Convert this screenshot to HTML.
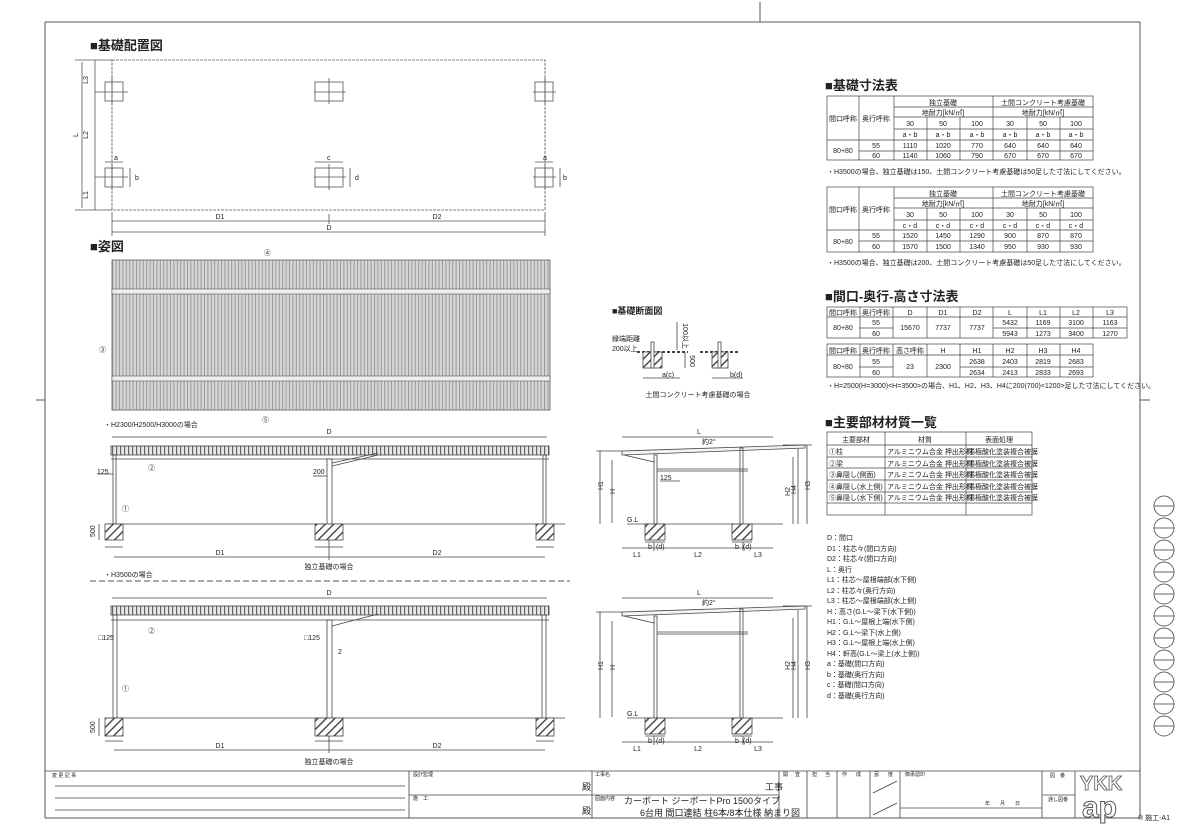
<!DOCTYPE html>
<html><head><meta charset="utf-8">
<style>
html,body{margin:0;padding:0;background:#fff;}
svg{display:block;}
text{font-family:"Liberation Sans","Noto Sans CJK JP",sans-serif;fill:#222;}
.t{font-size:8px;}
.s{font-size:7px;}
.h{font-size:13px;font-weight:bold;}
.m{text-anchor:middle;}
</style></head><body>
<svg width="1181" height="835" viewBox="0 0 1181 835" xmlns="http://www.w3.org/2000/svg">
<defs>
<pattern id="hat" width="6" height="6" patternUnits="userSpaceOnUse" patternTransform="rotate(45)">
<rect width="6" height="6" fill="#fff"/><rect width="1.4" height="6" fill="#444"/></pattern>
<pattern id="rib" width="3.4" height="10" patternUnits="userSpaceOnUse">
<rect width="3.4" height="10" fill="#d6d6d6"/><rect width="1" height="10" fill="#9a9a9a"/></pattern>
<pattern id="beam" width="4" height="8" patternUnits="userSpaceOnUse">
<rect width="4" height="8" fill="#e6e6e6"/><rect width="1.2" height="8" fill="#666"/></pattern>
</defs>
<g stroke="#555" stroke-width="1" fill="none">
<line x1="45" y1="22" x2="1140" y2="22"/>
<line x1="45" y1="22" x2="45" y2="818"/>
<line x1="1140" y1="22" x2="1140" y2="818"/>
<line x1="45" y1="818" x2="1140" y2="818"/>
<line x1="760" y1="2" x2="760" y2="22"/>
<line x1="36" y1="400" x2="45" y2="400"/>
<line x1="1140" y1="400" x2="1150" y2="400"/>
</g>
<g stroke="#666" fill="none">
<circle cx="1164" cy="506" r="10"/><circle cx="1164" cy="528" r="10"/><circle cx="1164" cy="550" r="10"/>
<circle cx="1164" cy="572" r="10"/><circle cx="1164" cy="594" r="10"/><circle cx="1164" cy="616" r="10"/>
<circle cx="1164" cy="638" r="10"/><circle cx="1164" cy="660" r="10"/><circle cx="1164" cy="682" r="10"/>
<circle cx="1164" cy="704" r="10"/><circle cx="1164" cy="726" r="10"/>
<line x1="1154" y1="506" x2="1174" y2="506"/><line x1="1154" y1="528" x2="1174" y2="528"/><line x1="1154" y1="550" x2="1174" y2="550"/>
<line x1="1154" y1="572" x2="1174" y2="572"/><line x1="1154" y1="594" x2="1174" y2="594"/><line x1="1154" y1="616" x2="1174" y2="616"/>
<line x1="1154" y1="638" x2="1174" y2="638"/><line x1="1154" y1="660" x2="1174" y2="660"/><line x1="1154" y1="682" x2="1174" y2="682"/>
<line x1="1154" y1="704" x2="1174" y2="704"/><line x1="1154" y1="726" x2="1174" y2="726"/>
</g>

<text x="90" y="50" class="h">■基礎配置図</text>
<g stroke="#555" fill="none" stroke-width="0.8">
<rect x="112" y="60" width="433" height="150" stroke-dasharray="3,1"/>
<rect x="105" y="82" width="18" height="19"/><rect x="315" y="82" width="28" height="19"/><rect x="535" y="82" width="18" height="19"/>
<rect x="105" y="168" width="18" height="19"/><rect x="315" y="168" width="28" height="19"/><rect x="535" y="168" width="18" height="19"/>
<line x1="95" y1="92" x2="128" y2="92"/><line x1="314" y1="92" x2="346" y2="92"/><line x1="533" y1="92" x2="556" y2="92"/>
<line x1="95" y1="177" x2="128" y2="177"/><line x1="314" y1="177" x2="346" y2="177"/><line x1="533" y1="177" x2="556" y2="177"/>
<line x1="112" y1="78" x2="112" y2="104"/><line x1="329" y1="78" x2="329" y2="104"/><line x1="545" y1="78" x2="545" y2="104"/>
<line x1="112" y1="164" x2="112" y2="190"/><line x1="329" y1="164" x2="329" y2="190"/><line x1="545" y1="164" x2="545" y2="190"/>
<line x1="82" y1="62" x2="82" y2="208"/><line x1="75" y1="60" x2="112" y2="60"/><line x1="75" y1="210" x2="112" y2="210"/>
<line x1="95" y1="60" x2="95" y2="210"/>
<line x1="105" y1="162" x2="123" y2="162"/><line x1="315" y1="162" x2="343" y2="162"/><line x1="535" y1="162" x2="553" y2="162"/>
<line x1="130" y1="168" x2="130" y2="187"/><line x1="350" y1="168" x2="350" y2="187"/><line x1="560" y1="168" x2="560" y2="187"/>
<line x1="112" y1="221" x2="545" y2="221"/><line x1="329" y1="214" x2="329" y2="224"/>
<line x1="112" y1="212" x2="112" y2="236"/><line x1="545" y1="212" x2="545" y2="236"/>
<line x1="112" y1="232" x2="545" y2="232"/>
</g>
<g class="s">
<text x="88" y="80" transform="rotate(-90 88 80)" class="m">L3</text>
<text x="88" y="135" transform="rotate(-90 88 135)" class="m">L2</text>
<text x="88" y="195" transform="rotate(-90 88 195)" class="m">L1</text>
<text x="78" y="135" transform="rotate(-90 78 135)" class="m">L</text>
<text x="114" y="160">a</text><text x="327" y="160">c</text><text x="543" y="160">a</text>
<text x="135" y="180">b</text><text x="355" y="180">d</text><text x="563" y="180">b</text>
<text x="220" y="219" class="m">D1</text><text x="437" y="219" class="m">D2</text><text x="329" y="230" class="m">D</text>
</g>

<text x="90" y="251" class="h">■姿図</text>
<rect x="112" y="260" width="438" height="150" fill="url(#rib)" stroke="#777"/>
<rect x="112" y="289" width="438" height="5" fill="#eee" stroke="#555" stroke-width="0.6"/>
<rect x="112" y="376" width="438" height="5" fill="#eee" stroke="#555" stroke-width="0.6"/>
<g class="s"><text x="264" y="255">④</text><text x="262" y="422">⑤</text><text x="99" y="352">③</text>
<text x="104" y="427">・H2300/H2500/H3000の場合</text>
<text x="104" y="577">・H3500の場合</text></g>
<line x1="90" y1="581" x2="570" y2="581" stroke="#555" stroke-dasharray="6,3"/>

<g stroke="#444" fill="none" stroke-width="0.8">
<line x1="112" y1="437" x2="547" y2="437"/>
<rect x="111" y="446" width="438" height="9" fill="url(#beam)"/>
<line x1="111" y1="459" x2="549" y2="459"/>
<rect x="113" y="455" width="3" height="69"/><rect x="327" y="459" width="5" height="65"/><rect x="543" y="455" width="3" height="69"/>
<line x1="332" y1="463" x2="378" y2="453"/><line x1="332" y1="466" x2="378" y2="455"/>
<line x1="107" y1="524" x2="565" y2="524"/>
<rect x="105" y="524" width="18" height="16" fill="url(#hat)"/><rect x="315" y="524" width="28" height="16" fill="url(#hat)"/><rect x="536" y="524" width="18" height="16" fill="url(#hat)"/>
<line x1="105" y1="547" x2="123" y2="547"/><line x1="315" y1="547" x2="343" y2="547"/><line x1="536" y1="547" x2="554" y2="547"/>
<line x1="114" y1="557" x2="545" y2="557"/><line x1="329" y1="540" x2="329" y2="560"/>
<line x1="99" y1="524" x2="99" y2="540"/><line x1="97" y1="474" x2="113" y2="474"/><line x1="313" y1="476" x2="327" y2="476"/>
</g>
<g class="s"><text x="329" y="434" class="m">D</text><text x="97" y="474">125</text><text x="313" y="474">200</text>
<text x="148" y="470">②</text><text x="122" y="511">①</text>
<text x="95" y="537" transform="rotate(-90 95 537)">500</text>
<text x="220" y="555" class="m">D1</text><text x="437" y="555" class="m">D2</text>
<text x="329" y="569" class="m">独立基礎の場合</text></g>

<g stroke="#444" fill="none" stroke-width="0.8">
<line x1="112" y1="598" x2="547" y2="598"/>
<rect x="111" y="606" width="438" height="9" fill="url(#beam)"/>
<line x1="111" y1="620" x2="549" y2="620"/>
<rect x="113" y="615" width="4" height="103"/><rect x="327" y="620" width="5" height="98"/><rect x="542" y="615" width="4" height="103"/>
<line x1="332" y1="626" x2="378" y2="614"/>
<line x1="107" y1="718" x2="565" y2="718"/>
<rect x="105" y="718" width="18" height="18" fill="url(#hat)"/><rect x="315" y="718" width="28" height="18" fill="url(#hat)"/><rect x="536" y="718" width="18" height="18" fill="url(#hat)"/>
<line x1="105" y1="741" x2="123" y2="741"/><line x1="315" y1="741" x2="343" y2="741"/><line x1="536" y1="741" x2="554" y2="741"/>
<line x1="114" y1="750" x2="545" y2="750"/><line x1="329" y1="736" x2="329" y2="753"/>
<line x1="99" y1="718" x2="99" y2="736"/>
</g>
<g class="s"><text x="329" y="595" class="m">D</text><text x="98" y="640">□125</text><text x="304" y="640">□125</text><text x="338" y="654">2</text>
<text x="148" y="633">②</text><text x="122" y="691">①</text>
<text x="95" y="733" transform="rotate(-90 95 733)">500</text>
<text x="220" y="748" class="m">D1</text><text x="437" y="748" class="m">D2</text>
<text x="329" y="764" class="m">独立基礎の場合</text></g>

<!-- side elevation 1 -->
<g stroke="#444" fill="none" stroke-width="0.8">
<line x1="622" y1="437" x2="773" y2="437"/>
<polygon points="622,451 805,445 805,448 622,455" fill="#f4f4f4"/>
<line x1="624" y1="455" x2="654" y2="462"/>
<rect x="654" y="455" width="3" height="69"/><rect x="740" y="448" width="3" height="76"/>
<line x1="657" y1="469" x2="748" y2="469"/><line x1="657" y1="471" x2="748" y2="471"/>
<line x1="627" y1="524" x2="783" y2="524"/>
<rect x="645" y="524" width="20" height="16" fill="url(#hat)"/><rect x="732" y="524" width="20" height="16" fill="url(#hat)"/>
<line x1="622" y1="548" x2="773" y2="548"/><line x1="654" y1="542" x2="654" y2="551"/><line x1="743" y1="542" x2="743" y2="551"/>
<line x1="645" y1="542" x2="665" y2="542"/><line x1="732" y1="542" x2="752" y2="542"/>
<line x1="600" y1="451" x2="600" y2="524"/><line x1="612" y1="460" x2="612" y2="523"/>
<line x1="793" y1="457" x2="793" y2="524"/><line x1="798" y1="449" x2="798" y2="524"/><line x1="807" y1="445" x2="807" y2="524"/>
<line x1="596" y1="451" x2="622" y2="451"/><line x1="783" y1="445" x2="812" y2="445"/>
<line x1="660" y1="481" x2="680" y2="481"/>
</g>
<!-- side elevation 2 (H3500) -->
<g stroke="#444" fill="none" stroke-width="0.8">
<line x1="622" y1="598" x2="773" y2="598"/>
<polygon points="622,612 805,606 805,609 622,616" fill="#f4f4f4"/>
<line x1="624" y1="616" x2="654" y2="623"/>
<rect x="654" y="616" width="3" height="102"/><rect x="740" y="609" width="3" height="109"/>
<line x1="657" y1="632" x2="748" y2="632"/><line x1="657" y1="634" x2="748" y2="634"/>
<line x1="627" y1="718" x2="783" y2="718"/>
<rect x="645" y="718" width="20" height="16" fill="url(#hat)"/><rect x="732" y="718" width="20" height="16" fill="url(#hat)"/>
<line x1="622" y1="742" x2="773" y2="742"/><line x1="654" y1="736" x2="654" y2="745"/><line x1="743" y1="736" x2="743" y2="745"/>
<line x1="645" y1="736" x2="665" y2="736"/><line x1="732" y1="736" x2="752" y2="736"/>
<line x1="600" y1="612" x2="600" y2="718"/><line x1="612" y1="621" x2="612" y2="717"/>
<line x1="793" y1="618" x2="793" y2="718"/><line x1="798" y1="610" x2="798" y2="718"/><line x1="807" y1="606" x2="807" y2="718"/>
<line x1="596" y1="612" x2="622" y2="612"/><line x1="783" y1="606" x2="812" y2="606"/>
</g>
<g class="s">
<text x="697" y="434">L</text><text x="702" y="444">約2°</text><text x="660" y="480">125</text><text x="627" y="522">G.L</text>
<text x="603" y="490" transform="rotate(-90 603 490)">H1</text><text x="615" y="494" transform="rotate(-90 615 494)">H</text>
<text x="790" y="496" transform="rotate(-90 790 496)">H2</text><text x="796" y="494" transform="rotate(-90 796 494)">H4</text><text x="810" y="490" transform="rotate(-90 810 490)">H3</text>
<text x="648" y="549">b</text><text x="656" y="549">(d)</text><text x="735" y="549">b</text><text x="743" y="549">(d)</text>
<text x="637" y="557" class="m">L1</text><text x="698" y="557" class="m">L2</text><text x="758" y="557" class="m">L3</text>
<text x="697" y="595">L</text><text x="702" y="605">約2°</text>
<text x="603" y="670" transform="rotate(-90 603 670)">H1</text><text x="615" y="670" transform="rotate(-90 615 670)">H</text>
<text x="790" y="670" transform="rotate(-90 790 670)">H2</text><text x="796" y="670" transform="rotate(-90 796 670)">H4</text><text x="810" y="670" transform="rotate(-90 810 670)">H3</text>
<text x="648" y="743">b</text><text x="656" y="743">(d)</text><text x="735" y="743">b</text><text x="743" y="743">(d)</text>
<text x="637" y="751" class="m">L1</text><text x="698" y="751" class="m">L2</text><text x="758" y="751" class="m">L3</text>
<text x="627" y="716">G.L</text>
</g>

<text x="612" y="314" style="font-size:9px;font-weight:bold">■基礎断面図</text>
<g stroke="#444" fill="none" stroke-width="0.8">
<line x1="637" y1="352" x2="688" y2="352" stroke-width="2" stroke-dasharray="3,2"/>
<rect x="643" y="352" width="19" height="16" fill="url(#hat)"/><rect x="651" y="342" width="3" height="26" fill="#fff"/>
<line x1="643" y1="378" x2="680" y2="378"/><line x1="685" y1="352" x2="685" y2="368"/><line x1="677" y1="322" x2="677" y2="350"/>
<line x1="700" y1="352" x2="738" y2="352" stroke-width="2" stroke-dasharray="3,2"/>
<rect x="712" y="352" width="16" height="16" fill="url(#hat)"/><rect x="718" y="342" width="3" height="26" fill="#fff"/>
<line x1="712" y1="378" x2="743" y2="378"/>
</g>
<g class="s"><text x="612" y="341">縁端距離</text><text x="612" y="351">200以上</text>
<text x="683" y="336" transform="rotate(90 683 336)" class="m">100以上</text>
<text x="690" y="361" transform="rotate(90 690 361)" class="m">500</text>
<text x="662" y="377">a(c)</text><text x="730" y="377">b(d)</text>
<text x="698" y="397" class="m">土間コンクリート考慮基礎の場合</text></g>

<text x="825" y="90" class="h">■基礎寸法表</text>
<g stroke="#444" fill="none" stroke-width="0.7">
<rect x="827" y="96" width="266" height="64"/>
<line x1="859" y1="96" x2="859" y2="160"/><line x1="894" y1="96" x2="894" y2="160"/><line x1="993" y1="96" x2="993" y2="160"/>
<line x1="927" y1="117" x2="927" y2="160"/><line x1="960" y1="117" x2="960" y2="160"/><line x1="1027" y1="117" x2="1027" y2="160"/><line x1="1060" y1="117" x2="1060" y2="160"/>
<line x1="894" y1="107" x2="1093" y2="107"/><line x1="894" y1="117" x2="1093" y2="117"/><line x1="894" y1="129" x2="1093" y2="129"/>
<line x1="827" y1="140" x2="1093" y2="140"/><line x1="859" y1="151" x2="1093" y2="151"/>
<rect x="827" y="187" width="266" height="65"/>
<line x1="859" y1="187" x2="859" y2="252"/><line x1="894" y1="187" x2="894" y2="252"/><line x1="993" y1="187" x2="993" y2="252"/>
<line x1="927" y1="208" x2="927" y2="252"/><line x1="960" y1="208" x2="960" y2="252"/><line x1="1027" y1="208" x2="1027" y2="252"/><line x1="1060" y1="208" x2="1060" y2="252"/>
<line x1="894" y1="198" x2="1093" y2="198"/><line x1="894" y1="208" x2="1093" y2="208"/><line x1="894" y1="220" x2="1093" y2="220"/>
<line x1="827" y1="230" x2="1093" y2="230"/><line x1="859" y1="241" x2="1093" y2="241"/>
</g>
<g class="s m">
<text x="843" y="121">間口呼称</text><text x="876" y="121">奥行呼称</text>
<text x="943" y="105">独立基礎</text><text x="1043" y="105">土間コンクリート考慮基礎</text>
<text x="943" y="115">地耐力[kN/㎡]</text><text x="1043" y="115">地耐力[kN/㎡]</text>
<text x="910" y="126">30</text><text x="943" y="126">50</text><text x="977" y="126">100</text><text x="1010" y="126">30</text><text x="1043" y="126">50</text><text x="1076" y="126">100</text>
<text x="910" y="137">a・b</text><text x="943" y="137">a・b</text><text x="977" y="137">a・b</text><text x="1010" y="137">a・b</text><text x="1043" y="137">a・b</text><text x="1076" y="137">a・b</text>
<text x="843" y="153">80+80</text><text x="876" y="148">55</text><text x="876" y="158">60</text>
<text x="910" y="148">1110</text><text x="943" y="148">1020</text><text x="977" y="148">770</text><text x="1010" y="148">640</text><text x="1043" y="148">640</text><text x="1076" y="148">640</text>
<text x="910" y="158">1140</text><text x="943" y="158">1060</text><text x="977" y="158">790</text><text x="1010" y="158">670</text><text x="1043" y="158">670</text><text x="1076" y="158">670</text>
<text x="843" y="212">間口呼称</text><text x="876" y="212">奥行呼称</text>
<text x="943" y="196">独立基礎</text><text x="1043" y="196">土間コンクリート考慮基礎</text>
<text x="943" y="206">地耐力[kN/㎡]</text><text x="1043" y="206">地耐力[kN/㎡]</text>
<text x="910" y="217">30</text><text x="943" y="217">50</text><text x="977" y="217">100</text><text x="1010" y="217">30</text><text x="1043" y="217">50</text><text x="1076" y="217">100</text>
<text x="910" y="228">c・d</text><text x="943" y="228">c・d</text><text x="977" y="228">c・d</text><text x="1010" y="228">c・d</text><text x="1043" y="228">c・d</text><text x="1076" y="228">c・d</text>
<text x="843" y="244">80+80</text><text x="876" y="238">55</text><text x="876" y="249">60</text>
<text x="910" y="238">1520</text><text x="943" y="238">1450</text><text x="977" y="238">1290</text><text x="1010" y="238">900</text><text x="1043" y="238">870</text><text x="1076" y="238">870</text>
<text x="910" y="249">1570</text><text x="943" y="249">1500</text><text x="977" y="249">1340</text><text x="1010" y="249">950</text><text x="1043" y="249">930</text><text x="1076" y="249">930</text>
</g>
<g class="s"><text x="827" y="174">・H3500の場合、独立基礎は150、土間コンクリート考慮基礎は50足した寸法にしてください。</text>
<text x="827" y="265">・H3500の場合、独立基礎は200、土間コンクリート考慮基礎は50足した寸法にしてください。</text></g>

<text x="825" y="301" class="h">■間口-奥行-高さ寸法表</text>
<g stroke="#444" fill="none" stroke-width="0.7">
<rect x="827" y="307" width="300" height="31"/>
<line x1="827" y1="317" x2="1127" y2="317"/>
<line x1="859" y1="328" x2="893" y2="328"/><line x1="993" y1="328" x2="1127" y2="328"/>
<line x1="860" y1="307" x2="860" y2="338"/><line x1="893" y1="307" x2="893" y2="338"/><line x1="927" y1="307" x2="927" y2="338"/><line x1="960" y1="307" x2="960" y2="338"/><line x1="993" y1="307" x2="993" y2="338"/><line x1="1027" y1="307" x2="1027" y2="338"/><line x1="1060" y1="307" x2="1060" y2="338"/><line x1="1093" y1="307" x2="1093" y2="338"/>
<rect x="827" y="344" width="266" height="33"/>
<line x1="827" y1="355" x2="1093" y2="355"/>
<line x1="859" y1="367" x2="893" y2="367"/><line x1="960" y1="367" x2="1093" y2="367"/>
<line x1="860" y1="344" x2="860" y2="377"/><line x1="893" y1="344" x2="893" y2="377"/><line x1="927" y1="344" x2="927" y2="377"/><line x1="960" y1="344" x2="960" y2="377"/><line x1="993" y1="344" x2="993" y2="377"/><line x1="1027" y1="344" x2="1027" y2="377"/><line x1="1060" y1="344" x2="1060" y2="377"/>
</g>
<g class="s m">
<text x="843" y="315">間口呼称</text><text x="876" y="315">奥行呼称</text><text x="910" y="315">D</text><text x="943" y="315">D1</text><text x="977" y="315">D2</text><text x="1010" y="315">L</text><text x="1043" y="315">L1</text><text x="1076" y="315">L2</text><text x="1110" y="315">L3</text>
<text x="843" y="330">80+80</text><text x="876" y="325">55</text><text x="876" y="336">60</text><text x="910" y="330">15670</text><text x="943" y="330">7737</text><text x="977" y="330">7737</text>
<text x="1010" y="325">5432</text><text x="1043" y="325">1169</text><text x="1076" y="325">3100</text><text x="1110" y="325">1163</text>
<text x="1010" y="336">5943</text><text x="1043" y="336">1273</text><text x="1076" y="336">3400</text><text x="1110" y="336">1270</text>
<text x="843" y="353">間口呼称</text><text x="876" y="353">奥行呼称</text><text x="910" y="353">高さ呼称</text><text x="943" y="353">H</text><text x="977" y="353">H1</text><text x="1010" y="353">H2</text><text x="1043" y="353">H3</text><text x="1076" y="353">H4</text>
<text x="843" y="369">80+80</text><text x="876" y="364">55</text><text x="876" y="375">60</text><text x="910" y="369">23</text><text x="943" y="369">2300</text>
<text x="977" y="364">2638</text><text x="1010" y="364">2403</text><text x="1043" y="364">2819</text><text x="1076" y="364">2683</text>
<text x="977" y="375">2634</text><text x="1010" y="375">2413</text><text x="1043" y="375">2833</text><text x="1076" y="375">2693</text>
</g>
<text x="827" y="388" class="s">・H=2500(H=3000)&lt;H=3500&gt;の場合、H1、H2、H3、H4に200(700)&lt;1200&gt;足した寸法にしてください。</text>

<text x="825" y="427" class="h">■主要部材材質一覧</text>
<g stroke="#444" fill="none" stroke-width="0.7">
<rect x="827" y="432" width="205" height="83"/>
<line x1="885" y1="432" x2="885" y2="515"/><line x1="966" y1="432" x2="966" y2="515"/>
<line x1="827" y1="445" x2="1032" y2="445"/><line x1="827" y1="457" x2="1032" y2="457"/><line x1="827" y1="468" x2="1032" y2="468"/><line x1="827" y1="480" x2="1032" y2="480"/><line x1="827" y1="492" x2="1032" y2="492"/><line x1="827" y1="503" x2="1032" y2="503"/>
</g>
<g class="s">
<text x="856" y="442" class="m">主要部材</text><text x="925" y="442" class="m">材質</text><text x="999" y="442" class="m">表面処理</text>
<text x="829" y="454">①柱</text><text x="829" y="466">②梁</text><text x="829" y="477">③鼻隠し(側面)</text><text x="829" y="489">④鼻隠し(水上側)</text><text x="829" y="500">⑤鼻隠し(水下側)</text>
<text x="887" y="454">アルミニウム合金 押出形材</text><text x="887" y="466">アルミニウム合金 押出形材</text><text x="887" y="477">アルミニウム合金 押出形材</text><text x="887" y="489">アルミニウム合金 押出形材</text><text x="887" y="500">アルミニウム合金 押出形材</text>
<text x="968" y="454">陽極酸化塗装複合被膜</text><text x="968" y="466">陽極酸化塗装複合被膜</text><text x="968" y="477">陽極酸化塗装複合被膜</text><text x="968" y="489">陽極酸化塗装複合被膜</text><text x="968" y="500">陽極酸化塗装複合被膜</text>
</g>

<g class="s">
<text x="827" y="540">D：間口</text><text x="827" y="551">D1：柱芯々(間口方向)</text><text x="827" y="561">D2：柱芯々(間口方向)</text><text x="827" y="572">L：奥行</text>
<text x="827" y="582">L1：柱芯～屋根端部(水下側)</text><text x="827" y="593">L2：柱芯々(奥行方向)</text><text x="827" y="603">L3：柱芯～屋根端部(水上側)</text>
<text x="827" y="614">H：高さ(G.L～梁下(水下側))</text><text x="827" y="624">H1：G.L～屋根上端(水下側)</text><text x="827" y="635">H2：G.L～梁下(水上側)</text>
<text x="827" y="645">H3：G.L～屋根上端(水上側)</text><text x="827" y="656">H4：軒高(G.L～梁上(水上側))</text>
<text x="827" y="666">a：基礎(間口方向)</text><text x="827" y="677">b：基礎(奥行方向)</text><text x="827" y="687">c：基礎(間口方向)</text><text x="827" y="698">d：基礎(奥行方向)</text>
</g>

<g stroke="#444" fill="none" stroke-width="0.8">
<line x1="45" y1="771" x2="1140" y2="771"/>
<line x1="409" y1="771" x2="409" y2="818"/><line x1="592" y1="771" x2="592" y2="818"/><line x1="779" y1="771" x2="779" y2="818"/>
<line x1="807" y1="771" x2="807" y2="818"/><line x1="837" y1="771" x2="837" y2="818"/><line x1="870" y1="771" x2="870" y2="818"/><line x1="900" y1="771" x2="900" y2="818"/>
<line x1="1042" y1="771" x2="1042" y2="818"/><line x1="1075" y1="771" x2="1075" y2="818"/>
<line x1="409" y1="795" x2="779" y2="795"/><line x1="1042" y1="795" x2="1075" y2="795"/><line x1="900" y1="808" x2="1042" y2="808"/>
<line x1="55" y1="786" x2="405" y2="786"/><line x1="55" y1="798" x2="405" y2="798"/><line x1="55" y1="810" x2="405" y2="810"/>
<line x1="873" y1="793" x2="897" y2="781"/><line x1="873" y1="815" x2="897" y2="803"/>
</g>
<g style="font-size:5px">
<text x="52" y="777">変 更 記 事</text><text x="413" y="776">設計監理</text><text x="595" y="776">工事名</text>
<text x="413" y="800">施　工</text><text x="595" y="800">図面内容</text>
<text x="783" y="776">開</text><text x="795" y="776">査</text><text x="812" y="776">担</text><text x="825" y="776">当</text><text x="842" y="776">作</text><text x="856" y="776">成</text><text x="874" y="776">民</text><text x="888" y="776">度</text>
<text x="905" y="776">御承認印</text><text x="985" y="805">年　　月　　日</text>
<text x="1050" y="777">図　番</text><text x="1048" y="801">通し図番</text>
</g>
<g style="font-size:9px">
<text x="582" y="790">殿</text><text x="765" y="790">工事</text><text x="582" y="814">殿</text>
<text x="624" y="804">カーボート ジーボートPro 1500タイプ</text>
<text x="640" y="816">6台用 間口連結 柱6本/8本仕様 納まり図</text>
</g>
<text x="1080" y="790" style="font-size:20px;font-weight:bold;fill:#fff;stroke:#555;stroke-width:0.8">YKK</text>
<text x="1082" y="817" style="font-size:30px;font-weight:bold;fill:#fff;stroke:#555;stroke-width:1">ap</text>
<text x="1138" y="820" style="font-size:7px">® 施工-A1</text>
</svg>
</body></html>
